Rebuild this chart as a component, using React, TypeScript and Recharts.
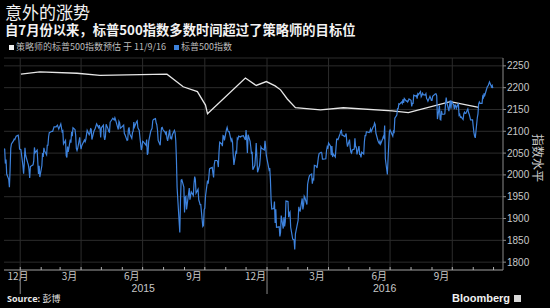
import React from 'react';
import { LineChart, Line, XAxis, YAxis, CartesianGrid, ReferenceLine } from 'recharts';

// S&P 500 daily closes
const spxDates = [
'2014-12-08','2014-12-09','2014-12-10','2014-12-11','2014-12-12','2014-12-15','2014-12-16','2014-12-17','2014-12-18','2014-12-19','2014-12-22','2014-12-23','2014-12-24','2014-12-26','2014-12-29','2014-12-30','2014-12-31',
'2015-01-02','2015-01-05','2015-01-06','2015-01-07','2015-01-08','2015-01-09','2015-01-12','2015-01-13','2015-01-14','2015-01-15','2015-01-16','2015-01-20','2015-01-21','2015-01-22','2015-01-23','2015-01-26','2015-01-27','2015-01-28','2015-01-29','2015-01-30',
'2015-02-02','2015-02-03','2015-02-04','2015-02-05','2015-02-06','2015-02-09','2015-02-10','2015-02-11','2015-02-12','2015-02-13','2015-02-17','2015-02-18','2015-02-20','2015-02-23','2015-02-25','2015-02-27',
'2015-03-02','2015-03-03','2015-03-04','2015-03-05','2015-03-06','2015-03-09','2015-03-10','2015-03-11','2015-03-12','2015-03-13','2015-03-16','2015-03-17','2015-03-18','2015-03-19','2015-03-20','2015-03-23','2015-03-24','2015-03-25','2015-03-26','2015-03-27','2015-03-30','2015-03-31',
'2015-04-01','2015-04-02','2015-04-06','2015-04-07','2015-04-08','2015-04-09','2015-04-10','2015-04-13','2015-04-14','2015-04-15','2015-04-16','2015-04-17','2015-04-20','2015-04-22','2015-04-24','2015-04-27','2015-04-28','2015-04-29','2015-04-30',
'2015-05-01','2015-05-04','2015-05-05','2015-05-06','2015-05-07','2015-05-08','2015-05-11','2015-05-12','2015-05-13','2015-05-14','2015-05-15','2015-05-18','2015-05-19','2015-05-20','2015-05-21','2015-05-22','2015-05-26','2015-05-27','2015-05-28','2015-05-29',
'2015-06-01','2015-06-03','2015-06-04','2015-06-05','2015-06-08','2015-06-09','2015-06-10','2015-06-11','2015-06-12','2015-06-15','2015-06-16','2015-06-17','2015-06-18','2015-06-19','2015-06-22','2015-06-23','2015-06-24','2015-06-26','2015-06-29','2015-06-30',
'2015-07-01','2015-07-02','2015-07-06','2015-07-07','2015-07-08','2015-07-09','2015-07-10','2015-07-13','2015-07-15','2015-07-16','2015-07-17','2015-07-20','2015-07-21','2015-07-22','2015-07-23','2015-07-24','2015-07-27','2015-07-28','2015-07-29','2015-07-30','2015-07-31',
'2015-08-03','2015-08-04','2015-08-05','2015-08-06','2015-08-07','2015-08-10','2015-08-11','2015-08-12','2015-08-13','2015-08-14','2015-08-17','2015-08-18','2015-08-19','2015-08-20','2015-08-21','2015-08-24','2015-08-25','2015-08-26','2015-08-27','2015-08-28','2015-08-31',
'2015-09-01','2015-09-02','2015-09-03','2015-09-04','2015-09-08','2015-09-09','2015-09-10','2015-09-11','2015-09-14','2015-09-15','2015-09-16','2015-09-17','2015-09-18','2015-09-21','2015-09-22','2015-09-23','2015-09-24','2015-09-25','2015-09-28','2015-09-29','2015-09-30',
'2015-10-01','2015-10-02','2015-10-05','2015-10-06','2015-10-07','2015-10-08','2015-10-09','2015-10-12','2015-10-13','2015-10-14','2015-10-15','2015-10-16','2015-10-19','2015-10-20','2015-10-21','2015-10-22','2015-10-23','2015-10-26','2015-10-27','2015-10-28','2015-10-29','2015-10-30',
'2015-11-02','2015-11-03','2015-11-04','2015-11-05','2015-11-06','2015-11-09','2015-11-10','2015-11-11','2015-11-12','2015-11-13','2015-11-16','2015-11-17','2015-11-18','2015-11-19','2015-11-20','2015-11-23','2015-11-24','2015-11-25','2015-11-27','2015-11-30',
'2015-12-01','2015-12-02','2015-12-03','2015-12-04','2015-12-07','2015-12-08','2015-12-09','2015-12-10','2015-12-11','2015-12-14','2015-12-15','2015-12-16','2015-12-17','2015-12-18','2015-12-21','2015-12-22','2015-12-23','2015-12-24','2015-12-28','2015-12-29','2015-12-30','2015-12-31',
'2016-01-04','2016-01-05','2016-01-06','2016-01-07','2016-01-08','2016-01-11','2016-01-12','2016-01-13','2016-01-14','2016-01-15','2016-01-19','2016-01-20','2016-01-21','2016-01-22','2016-01-25','2016-01-26','2016-01-27','2016-01-28','2016-01-29',
'2016-02-01','2016-02-02','2016-02-03','2016-02-04','2016-02-05','2016-02-08','2016-02-09','2016-02-10','2016-02-11','2016-02-12','2016-02-16','2016-02-17','2016-02-18','2016-02-19','2016-02-22','2016-02-23','2016-02-24','2016-02-25','2016-02-26','2016-02-29',
'2016-03-01','2016-03-02','2016-03-03','2016-03-04','2016-03-07','2016-03-08','2016-03-09','2016-03-10','2016-03-11','2016-03-14','2016-03-15','2016-03-16','2016-03-17','2016-03-18','2016-03-21','2016-03-22','2016-03-23','2016-03-24','2016-03-28','2016-03-29','2016-03-30','2016-03-31',
'2016-04-01','2016-04-04','2016-04-05','2016-04-06','2016-04-07','2016-04-08','2016-04-11','2016-04-12','2016-04-13','2016-04-14','2016-04-15','2016-04-18','2016-04-19','2016-04-20','2016-04-21','2016-04-22','2016-04-25','2016-04-26','2016-04-27','2016-04-28','2016-04-29',
'2016-05-02','2016-05-03','2016-05-04','2016-05-05','2016-05-06','2016-05-09','2016-05-10','2016-05-11','2016-05-12','2016-05-13','2016-05-16','2016-05-17','2016-05-18','2016-05-19','2016-05-20','2016-05-23','2016-05-24','2016-05-25','2016-05-26','2016-05-27','2016-05-31',
'2016-06-01','2016-06-02','2016-06-03','2016-06-06','2016-06-07','2016-06-08','2016-06-09','2016-06-10','2016-06-13','2016-06-14','2016-06-15','2016-06-16','2016-06-17','2016-06-20','2016-06-21','2016-06-22','2016-06-23','2016-06-24','2016-06-27','2016-06-28','2016-06-29','2016-06-30',
'2016-07-01','2016-07-05','2016-07-06','2016-07-07','2016-07-08','2016-07-11','2016-07-12','2016-07-13','2016-07-14','2016-07-15','2016-07-18','2016-07-19','2016-07-20','2016-07-21','2016-07-22','2016-07-25','2016-07-26','2016-07-27','2016-07-28','2016-07-29',
'2016-08-01','2016-08-02','2016-08-03','2016-08-04','2016-08-05','2016-08-08','2016-08-09','2016-08-10','2016-08-11','2016-08-12','2016-08-15','2016-08-16','2016-08-17','2016-08-18','2016-08-19','2016-08-22','2016-08-23','2016-08-24','2016-08-25','2016-08-26','2016-08-29','2016-08-30','2016-08-31',
'2016-09-01','2016-09-02','2016-09-06','2016-09-07','2016-09-08','2016-09-09','2016-09-12','2016-09-13','2016-09-14','2016-09-15','2016-09-16','2016-09-19','2016-09-20','2016-09-21','2016-09-22','2016-09-23','2016-09-26','2016-09-27','2016-09-28','2016-09-29','2016-09-30',
'2016-10-03','2016-10-04','2016-10-05','2016-10-06','2016-10-07','2016-10-10','2016-10-11','2016-10-12','2016-10-13','2016-10-14','2016-10-17','2016-10-18','2016-10-19','2016-10-20','2016-10-21','2016-10-24','2016-10-25','2016-10-26','2016-10-27','2016-10-28','2016-10-31',
'2016-11-01','2016-11-02','2016-11-03','2016-11-04','2016-11-07','2016-11-08','2016-11-09','2016-11-10','2016-11-11','2016-11-14','2016-11-15','2016-11-16','2016-11-17','2016-11-18','2016-11-21','2016-11-22','2016-11-23','2016-11-25','2016-11-28','2016-11-29','2016-11-30',
];
const spxClose = [
2060,2059,2026,2035,2002,1990,1972,2012,2061,2071,2078,2082,2081,2089,2091,2080,2059,
2058,2021,2003,2026,2062,2045,2028,2023,2012,1993,2019,2023,2032,2063,2051,2057,2029,2002,2021,1995,
2021,2050,2041,2062,2055,2046,2068,2068,2088,2097,2100,2100,2110,2110,2114,2105,
2117,2108,2099,2101,2071,2079,2044,2040,2065,2053,2081,2074,2099,2089,2108,2104,2091,2061,2056,2061,2086,2068,
2059,2067,2080,2076,2081,2092,2102,2092,2096,2106,2105,2081,2100,2107,2117,2108,2114,2106,2086,
2108,2114,2089,2080,2088,2116,2105,2099,2098,2121,2123,2130,2128,2126,2131,2126,2104,2123,2120,2107,
2111,2114,2095,2092,2079,2080,2105,2109,2094,2084,2097,2100,2121,2110,2122,2124,2108,2102,2057,2063,
2077,2076,2068,2081,2046,2051,2077,2100,2107,2124,2127,2129,2120,2115,2103,2079,2068,2093,2108,2109,2104,
2098,2094,2100,2084,2078,2104,2084,2086,2083,2092,2102,2097,2079,2036,1971,1893,1868,1940,1988,1989,1972,
1914,1949,1951,1921,1970,1943,1953,1961,1953,1979,1996,1990,1958,1967,1943,1938,1932,1932,1882,1884,1920,
1924,1951,1987,1980,1996,2014,2015,2017,2004,1994,2024,2033,2033,2030,2018,2052,2075,2071,2066,2090,2089,2079,
2104,2109,2102,2099,2099,2078,2082,2075,2045,2023,2053,2051,2084,2082,2089,2087,2089,2089,2090,2080,
2103,2080,2050,2092,2077,2064,2048,2053,2012,2022,2043,2073,2041,2006,2022,2039,2064,2061,2057,2078,2063,2044,
2012,2016,1990,1943,1922,1923,1939,1890,1921,1880,1881,1859,1868,1907,1877,1903,1882,1893,1940,
1939,1903,1912,1915,1880,1853,1852,1851,1829,1865,1896,1927,1918,1917,1946,1921,1930,1951,1948,1932,
1978,1987,1994,1999,2002,1980,1990,1989,2022,2020,2016,2028,2041,2049,2052,2050,2036,2036,2037,2056,2064,2060,
2073,2066,2045,2066,2041,2048,2041,2062,2082,2082,2081,2094,2100,2102,2091,2091,2088,2091,2095,2075,2065,
2081,2063,2052,2050,2057,2059,2084,2064,2064,2047,2066,2047,2047,2040,2052,2048,2076,2090,2090,2099,2097,
2099,2105,2099,2110,2112,2119,2115,2096,2079,2075,2072,2077,2071,2083,2088,2085,2113,2037,2001,2036,2071,2099,
2103,2089,2100,2098,2130,2137,2152,2152,2163,2162,2167,2164,2173,2165,2175,2169,2170,2167,2170,2174,
2171,2157,2164,2164,2183,2181,2182,2175,2186,2184,2191,2179,2182,2187,2184,2183,2186,2175,2173,2169,2180,2176,2171,
2171,2180,2186,2186,2181,2128,2159,2127,2126,2147,2139,2139,2140,2164,2177,2165,2146,2160,2171,2152,2168,
2161,2151,2160,2160,2153,2164,2137,2139,2132,2133,2127,2140,2144,2141,2141,2151,2143,2139,2133,2126,2126,
2111,2097,2089,2085,2131,2140,2163,2167,2164,2164,2180,2177,2187,2182,2198,2203,2204,2213,2202,2205,2199,
];

// Strategists' S&P 500 year-end estimate
const estDates = ['2015-01-02','2015-01-30','2015-03-26','2015-04-29','2015-08-06','2015-08-30','2015-09-20','2015-10-02','2015-10-05','2015-11-30','2015-12-16','2015-12-31','2016-01-13','2016-01-21','2016-01-31','2016-02-12','2016-03-20','2016-04-23','2016-07-04','2016-07-28','2016-09-28','2016-11-09'];
const estValues = [2231,2236,2233,2228,2231,2202,2191,2160,2140,2222,2205,2214,2204,2195,2174,2154,2149,2154,2147,2143,2168,2155];

const yTicks = [1800, 1850, 1900, 1950, 2000, 2050, 2100, 2150, 2200, 2250];
const monthStartDates = ['2015-01-01','2015-02-01','2015-03-01','2015-04-01','2015-05-01','2015-06-01','2015-07-01','2015-08-01','2015-09-01','2015-10-01','2015-11-01','2015-12-01','2016-01-01','2016-02-01','2016-03-01','2016-04-01','2016-05-01','2016-06-01','2016-07-01','2016-08-01','2016-09-01','2016-10-01','2016-11-01','2016-12-01'];
const quarterStartDates = ['2015-01-01','2015-04-01','2015-07-01','2015-10-01','2016-01-01','2016-04-01','2016-07-01','2016-10-01'];
const monthLabelDates = ['2014-12-15','2015-03-15','2015-06-15','2015-09-15','2015-12-15','2016-03-15','2016-06-15','2016-09-15'];
const monthLabels = ['12月', '3月', '6月', '9月', '12月', '3月', '6月', '9月'];
const yearLabelDates = ['2015-07-02', '2016-06-23'];
const yearLabels = ['2015', '2016'];

const BASE = Date.UTC(2015, 0, 1);
const dayOf = (s: string) => {
  const [y, m, d] = s.split('-').map(Number);
  return Math.round((Date.UTC(y, m - 1, d) - BASE) / 86400000);
};
const X_DOMAIN: [number, number] = [-24, 714];

const spxData = spxDates.map((s, i) => ({ d: dayOf(s), v: spxClose[i] }));
const estData = estDates.map((s, i) => ({ d: dayOf(s), v: estValues[i] }));
const monthTicks = monthStartDates.map(dayOf);
const quarterTicks = quarterStartDates.map(dayOf);
const labelTicks = monthLabelDates.map(dayOf);
const yearTicks = yearLabelDates.map(dayOf);
const allTicks = [...monthTicks, ...labelTicks, ...yearTicks].sort((a, b) => a - b);

const CJK = '"Noto Sans CJK SC", "Noto Sans", sans-serif';
const LATIN = '"Liberation Sans", Arial, sans-serif';
const AXIS_COLOR = '#8a8a8a';
const GRID_COLOR = '#2c2c2c';

const AxisTick = (props: any) => {
  const { x, y, payload } = props;
  const v = payload.value;
  const mi = monthTicks.indexOf(v);
  if (mi >= 0) {
    const isYearStart = new Date(BASE + v * 86400000).getUTCMonth() === 0;
    return (
      <g>
        <line x1={x} x2={x} y1={y - 3} y2={y} stroke="#b0b0b0" strokeWidth={1} />
        {isYearStart && <line x1={x} x2={x} y1={y} y2={y + 24} stroke={AXIS_COLOR} strokeWidth={1} />}
      </g>
    );
  }
  const li = labelTicks.indexOf(v);
  if (li >= 0) {
    return (
      <text x={Math.max(x, 18)} y={y + 9.5} textAnchor="middle" fill="#c8c8c8" fontSize={10} fontFamily={CJK}>
        {monthLabels[li]}
      </text>
    );
  }
  const yi = yearTicks.indexOf(v);
  if (yi >= 0) {
    return (
      <text x={x} y={y + 22} textAnchor="middle" fill="#c8c8c8" fontSize={10.5} fontFamily={LATIN}>
        {yearLabels[yi]}
      </text>
    );
  }
  return null;
};

const YLabel = (props: any) => {
  const { viewBox } = props;
  const cx = viewBox.x + 35;
  const cy = viewBox.y + viewBox.height / 2 - 6;
  return (
    <text x={cx} y={cy} transform={`rotate(90, ${cx}, ${cy})`} textAnchor="middle" dominantBaseline="central" fill="#c8c8c8" fontSize={12} fontFamily={CJK}>
      指数水平
    </text>
  );
};

export default function App() {
  return (
    <div style={{ position: 'fixed', left: 0, top: 0, width: 550, height: 308, background: '#000', overflow: 'hidden', fontFamily: CJK }}>
      <div style={{ position: 'absolute', left: 5, top: 2, fontSize: 17, color: '#f2f2f2', lineHeight: '19px', whiteSpace: 'nowrap' }}>意外的涨势</div>
      <div style={{ position: 'absolute', left: 5, top: 22, fontSize: 13.3, fontWeight: 700, color: '#f2f2f2', lineHeight: '15px', whiteSpace: 'nowrap' }}>自7月份以来，标普500指数多数时间超过了策略师的目标位</div>
      <div style={{ position: 'absolute', left: 9, top: 41, fontSize: 9, color: '#bdbdbd', lineHeight: '12px', whiteSpace: 'nowrap', display: 'flex', alignItems: 'center' }}>
        <span style={{ display: 'inline-block', width: 5, height: 5, background: '#f0f0f0', marginRight: 2 }} />
        <span>策略师的标普500指数预估 于 11/9/16</span>
        <span style={{ display: 'inline-block', width: 5, height: 5, background: '#3d82dc', marginLeft: 8, marginRight: 2 }} />
        <span>标普500指数</span>
      </div>
      <div style={{ position: 'absolute', left: 0, top: 0 }}>
        <LineChart width={550} height={308} margin={{ top: 58, right: 0, left: 4, bottom: 37 }}>
          <CartesianGrid horizontal vertical={false} stroke={GRID_COLOR} yAxisId="r" xAxisId="m" />
          {quarterTicks.map((q) => (
            <ReferenceLine key={q} x={q} xAxisId="m" yAxisId="r" stroke={GRID_COLOR} strokeWidth={1} />
          ))}
          <XAxis xAxisId="m" type="number" dataKey="d" domain={X_DOMAIN} allowDataOverflow ticks={allTicks} interval={0}
            height={1} tickSize={0} tickMargin={0} tickLine={false} axisLine={{ stroke: AXIS_COLOR }} tick={<AxisTick />} />
          <YAxis yAxisId="r" orientation="right" type="number" domain={[1782, 2268]} allowDataOverflow ticks={yTicks} interval={0}
            width={47} tickSize={3} tickMargin={1} axisLine={{ stroke: AXIS_COLOR }} tickLine={{ stroke: AXIS_COLOR }}
            tick={{ fill: '#c8c8c8', fontSize: 10, fontFamily: LATIN, textAnchor: 'start' }}
            label={<YLabel />} />
          <Line xAxisId="m" yAxisId="r" data={estData} dataKey="v" type="linear" stroke="#e6e6e6" strokeWidth={1.3} dot={false} isAnimationActive={false} />
          <Line xAxisId="m" yAxisId="r" data={spxData} dataKey="v" type="linear" stroke="#3d82dc" strokeWidth={1.2} dot={false} isAnimationActive={false} />
        </LineChart>
      </div>
      <div style={{ position: 'absolute', left: 7, top: 293, fontSize: 9, color: '#e8e8e8', lineHeight: '12px', whiteSpace: 'nowrap' }}>
        <span style={{ fontFamily: '"Open Sans", sans-serif', fontWeight: 700 }}>Source: </span>彭博
      </div>
      <div style={{ position: 'absolute', left: 452, top: 291, fontSize: 11, fontWeight: 700, color: '#f0f0f0', lineHeight: '14px', whiteSpace: 'nowrap', fontFamily: LATIN, display: 'flex', alignItems: 'center' }}>
        <span>Bloomberg</span>
        <span style={{ display: 'inline-block', width: 7, height: 7, background: '#d8d8d8', marginLeft: 4 }} />
      </div>
    </div>
  );
}
